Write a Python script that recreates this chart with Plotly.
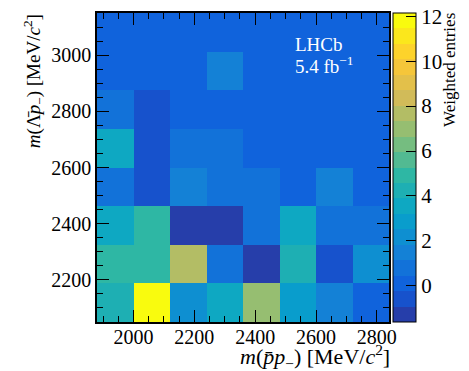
import plotly.graph_objects as go

# Bin edges of the 2D histogram
x_edges = [1880, 2000, 2120, 2240, 2360, 2480, 2600, 2720, 2840]
y_edges = [2050, 2187.5, 2325, 2462.5, 2600, 2737.5, 2875, 3012.5, 3150]

# Weighted entries per bin, one row per y bin (bottom to top)
row_2050 = [4.2, 12.1, 2.2, 3.5, 7.0, 2.9, 1.5, 0.2]
row_2187 = [4.9, 4.9, 7.7, 0.8, -1.4, 4.2, -0.6, 2.2]
row_2325 = [3.5, 4.9, -1.5, -1.62, 0.8, 3.5, 0.8, 0.8]
row_2462 = [0.8, -0.6, 1.5, 0.8, 0.8, 0.0, 1.5, 0.0]
row_2600 = [3.5, -0.6, 0.8, 0.8, 0.0, 0.0, 0.0, 0.0]
row_2737 = [0.8, -0.6, 0.0, 0.0, 0.0, 0.0, 0.0, 0.0]
row_2875 = [0.0, 0.0, 0.0, 1.5, 0.0, 0.0, 0.0, 0.0]
row_3012 = [0.0, 0.0, 0.0, 0.0, 0.0, 0.0, 0.0, 0.0]
z_values = [row_2050, row_2187, row_2325, row_2462,
            row_2600, row_2737, row_2875, row_3012]

z_min, z_max = -1.62, 12.15
n_levels = 20
cbar_ticks = [0, 2, 4, 6, 8, 10, 12]

# ROOT "kBird" palette stops
bird_r = [0.2082, 0.0592, 0.0780, 0.0232, 0.1802, 0.5301, 0.8186, 0.9956, 0.9764]
bird_g = [0.1664, 0.3599, 0.5041, 0.6419, 0.7178, 0.7492, 0.7328, 0.7862, 0.9832]
bird_b = [0.5293, 0.8684, 0.8385, 0.7914, 0.6425, 0.4662, 0.3499, 0.1968, 0.0539]


def bird(f):
    f = min(max(f, 0.0), 1.0)
    pos = f * (len(bird_r) - 1)
    i = min(int(pos), len(bird_r) - 2)
    t = pos - i
    c = [ch[i] + t * (ch[i + 1] - ch[i]) for ch in (bird_r, bird_g, bird_b)]
    return "rgb(%d,%d,%d)" % tuple(round(255 * v) for v in c)


# Stepped colour scale: one flat band per contour level
colorscale = []
for k in range(n_levels):
    col = bird((k + 1) / n_levels)
    colorscale.append([k / n_levels, col])
    colorscale.append([(k + 1) / n_levels, col])

FONT = "Liberation Serif"

fig = go.Figure(
    go.Heatmap(
        x=x_edges,
        y=y_edges,
        z=z_values,
        zmin=z_min,
        zmax=z_max,
        colorscale=colorscale,
        showscale=True,
        colorbar=dict(
            x=1.0137, xanchor="left", xpad=0,
            y=0.5, yanchor="middle", len=1.0, lenmode="fraction", ypad=0,
            thickness=23,
            outlinewidth=1, outlinecolor="black",
            tickvals=cbar_ticks,
            ticks="inside", ticklen=10, tickwidth=1.3, tickcolor="black",
            tickfont=dict(family=FONT, size=21, color="black"),
        ),
        hoverinfo="skip",
    )
)

axis_common = dict(
    showgrid=False, zeroline=False,
    showline=True, linecolor="black", linewidth=1.5, mirror="allticks",
    ticks="inside", ticklen=12, tickwidth=1.3, tickcolor="black",
    tickfont=dict(family=FONT, size=20, color="black"),
    minor=dict(ticks="inside", ticklen=6, tickwidth=1.1, tickcolor="black", dtick=50),
)

fig.update_xaxes(range=[x_edges[0], x_edges[-1]], tick0=2000, dtick=200,
                 minor_tick0=1900, ticklabelstandoff=-4, **axis_common)
fig.update_yaxes(range=[y_edges[0], y_edges[-1]], tick0=2200, dtick=200,
                 minor_tick0=2100, **axis_common)

annotations = [
    dict(text="LHCb", x=0.671, y=0.8987, xanchor="left", yanchor="middle",
         font=dict(family=FONT, size=19, color="white")),
    dict(text="5.4 fb<sup>−1</sup>", x=0.671, y=0.831, xanchor="left", yanchor="middle",
         font=dict(family=FONT, size=19, color="white")),
    dict(text="<i>m</i>(<i>p̄p</i><sub>−</sub>) [MeV/<i>c</i><sup>2</sup>]",
         x=1.0103, y=-0.1125, xanchor="right", yanchor="middle",
         font=dict(family=FONT, size=22, color="black")),
    dict(text="<i>m</i>(Λ̄<i>p</i><sub>−</sub>) [MeV/<i>c</i><sup>2</sup>]",
         x=-0.219, y=1.003, xanchor="center", yanchor="top", textangle=-90,
         font=dict(family=FONT, size=19, color="black")),
    dict(text="Weighted entries", x=1.2055, y=1.0064, xanchor="center", yanchor="top",
         textangle=-90, font=dict(family=FONT, size=17, color="black")),
]
for a in annotations:
    a.update(xref="paper", yref="paper", showarrow=False)

fig.update_layout(
    width=469, height=371,
    margin=dict(l=97, r=80, t=11, b=49, pad=0),
    paper_bgcolor="white", plot_bgcolor="white",
    font=dict(family=FONT, color="black"),
    annotations=annotations,
    showlegend=False,
)

fig.write_html("out.html")
